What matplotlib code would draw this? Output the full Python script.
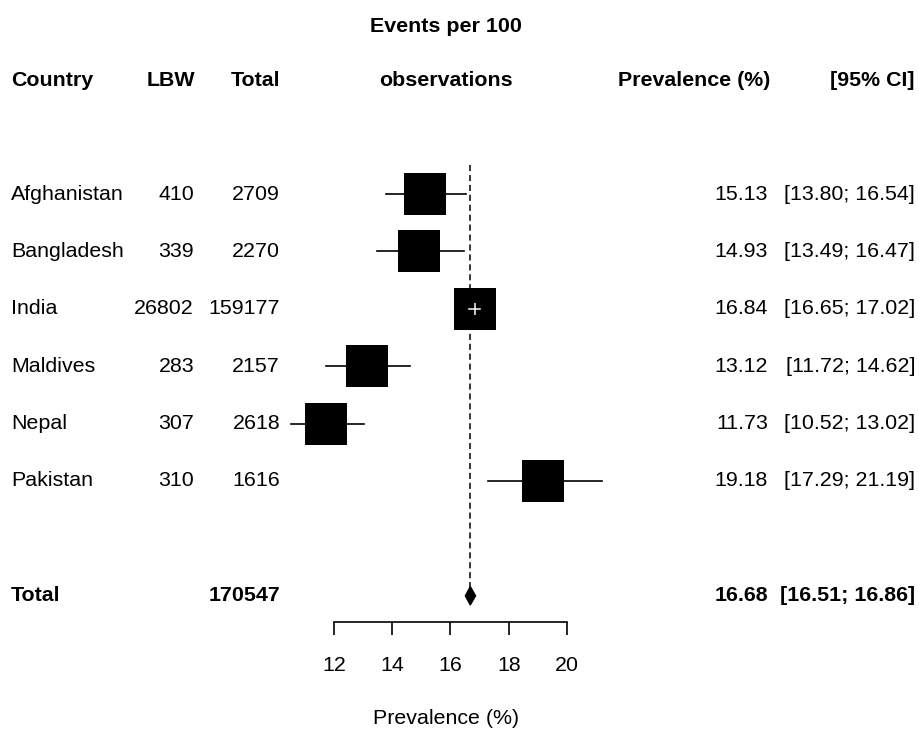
import matplotlib
matplotlib.use("Agg")
import matplotlib.pyplot as plt
from matplotlib.patches import Polygon
from matplotlib.transforms import blended_transform_factory

countries = ["Afghanistan", "Bangladesh", "India", "Maldives", "Nepal", "Pakistan"]
lbw = [410, 339, 26802, 283, 307, 310]
totals = [2709, 2270, 159177, 2157, 2618, 1616]
prev = [15.13, 14.93, 16.84, 13.12, 11.73, 19.18]
lower = [13.80, 13.49, 16.65, 11.72, 10.52, 17.29]
upper = [16.54, 16.47, 17.02, 14.62, 13.02, 21.19]
pooled_n = 170547
pooled = 16.68
pooled_lo, pooled_hi = 16.51, 16.86
xticks = [12, 14, 16, 18, 20]

plt.rcParams["font.family"] = ["Liberation Sans", "DejaVu Sans"]
FS = 15.4

W, H = 919, 731
fig = plt.figure(figsize=(W / 100, H / 100), dpi=100)
ax = fig.add_axes([0, 0, 1, 1])

# scale: 12 -> 334 px, 20 -> 567 px ; row 1 -> 194 px, 57.4 px per row
px_per_unit = (567 - 334) / 8
x0 = 12 - 334 / px_per_unit
ax.set_xlim(x0, x0 + W / px_per_unit)
row_px = 57.4
ax.set_ylim(1 + (H - 194) / row_px, 1 - 194 / row_px)

rows = list(range(1, len(countries) + 1))
total_row = 8

# reference line
ax.plot([pooled, pooled], [0.5, total_row - 0.16], color="black",
        lw=1.1, dashes=(4, 2.5), zorder=1)

for r, p, lo, hi in zip(rows, prev, lower, upper):
    ax.plot([lo, hi], [r, r], color="black", lw=1.2, zorder=2)
    ax.plot(p, r, marker="s", ms=30.2, color="black", mec="black",
            mew=0, zorder=3)
    # CI inside the box gets drawn in white
    if (p - lo) * px_per_unit < 21 and (hi - p) * px_per_unit < 21:
        ax.plot([lo, hi], [r, r], color="white", lw=1.1, zorder=4)
        ax.plot(p, r, marker="|", ms=8, color="white", mew=1.1, zorder=4)

diamond = Polygon([[pooled_lo, total_row], [pooled, total_row - 0.16],
                   [pooled_hi, total_row], [pooled, total_row + 0.16]],
                  closed=True, color="black", zorder=3)
ax.add_patch(diamond)

# bottom axis
for s in ["top", "left", "right"]:
    ax.spines[s].set_visible(False)
ax.spines["bottom"].set_position(("data", 1 + (622 - 194) / row_px))
ax.spines["bottom"].set_bounds(12, 20)
ax.spines["bottom"].set_linewidth(1.2)
ax.set_xticks(xticks)
ax.set_xticklabels([str(t) for t in xticks], fontsize=FS)
ax.tick_params(axis="x", direction="out", length=9.4, width=1.2, pad=15)
ax.set_yticks([])

tr = blended_transform_factory(fig.transFigure, ax.transData)

def col(xpx, y, s, ha, bold=False):
    ax.text(xpx / W, y, s, transform=tr, ha=ha, va="center", fontsize=FS,
            fontweight="bold" if bold else "normal")

hdr1 = 1 - (194 - 26) / row_px
hdr2 = 1 - (194 - 81) / row_px
col(446, hdr1, "Events per 100", "center", True)
col(11, hdr2, "Country", "left", True)
col(195, hdr2, "LBW", "right", True)
col(280, hdr2, "Total", "right", True)
col(446, hdr2, "observations", "center", True)
col(770, hdr2, "Prevalence (%)", "right", True)
col(915, hdr2, "[95% CI]", "right", True)

for r, c, e, n, p, lo, hi in zip(rows, countries, lbw, totals, prev, lower, upper):
    col(11, r, c, "left")
    col(194, r, str(e), "right")
    col(280, r, str(n), "right")
    col(768, r, f"{p:.2f}", "right")
    col(915, r, f"[{lo:.2f}; {hi:.2f}]", "right")

col(11, total_row, "Total", "left", True)
col(280, total_row, str(pooled_n), "right", True)
col(768, total_row, f"{pooled:.2f}", "right", True)
col(915, total_row, f"[{pooled_lo:.2f}; {pooled_hi:.2f}]", "right", True)

col(446, 1 + (719 - 194) / row_px, "Prevalence (%)", "center")

fig.savefig("out.png", dpi=100, facecolor="white")
